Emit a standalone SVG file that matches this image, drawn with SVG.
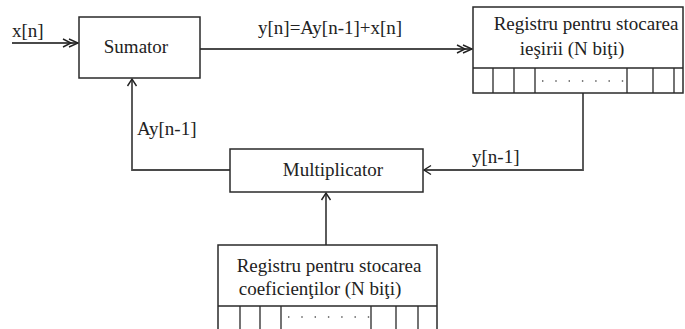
<svg xmlns="http://www.w3.org/2000/svg" width="685" height="329" viewBox="0 0 685 329">
  <style>
    .box { fill: #ffffff; stroke: #2a2a2a; stroke-width: 1.5; }
    .cell { stroke: #2a2a2a; stroke-width: 1.3; fill: none; }
    .dots { stroke: #555; stroke-width: 1.4; stroke-dasharray: 1.4 11.9; fill: none; }
    .wire { fill: none; stroke: #4a4a4a; stroke-width: 1.8; }
    text { font-family: 'Liberation Serif', 'DejaVu Serif', 'Times New Roman', serif; font-size: 19px; fill: #222; }
  </style>
  <defs>
    <marker id="dbl" viewBox="-16 -6 18 12" refX="0" refY="0" markerWidth="18" markerHeight="12" markerUnits="userSpaceOnUse" orient="auto">
      <path d="M-15,-4 L-7,0 L-15,4 M-9,-4 L0,0 L-9,4" fill="none" stroke="#222" stroke-width="1.4"/>
    </marker>
    <marker id="open" viewBox="-10 -6 12 12" refX="0" refY="0" markerWidth="12" markerHeight="12" markerUnits="userSpaceOnUse" orient="auto">
      <path d="M-7,-4.5 L0,0 L-7,4.5" fill="none" stroke="#222" stroke-width="1.4"/>
    </marker>
  </defs>

  <!-- connectors -->
  <g id="connectors" font-family="Liberation Serif, DejaVu Serif, serif">
    <path class="wire" d="M12,43 L78,43" marker-end="url(#dbl)"/>
    <path class="wire" d="M200,49 L472,49" marker-end="url(#dbl)"/>
    <path class="wire" d="M583,93 L583,170 L424,170" marker-end="url(#open)"/>
    <path class="wire" d="M230,170 L132,170 L132,79" marker-end="url(#open)"/>
    <path class="wire" d="M326,245 L326,193" marker-end="url(#open)"/>
    <text x="12" y="37">x[n]</text>
    <text x="258" y="34">y[n]=Ay[n-1]+x[n]</text>
    <text x="472" y="163">y[n-1]</text>
    <text x="137" y="135">Ay[n-1]</text>
  </g>

  <!-- adder -->
  <g id="sumator">
    <rect class="box" x="79" y="17" width="121" height="61"/>
    <text x="136" y="53" text-anchor="middle">Sumator</text>
  </g>

  <!-- output register -->
  <g id="registru-iesire">
    <rect class="box" x="473" y="7" width="210" height="86"/>
    <path class="cell" d="M473,68 H683 M493,68 V93 M514,68 V93 M535,68 V93 M627,68 V93 M653,68 V93 M674,68 V93"/>
    <path class="dots" d="M542,81 H626"/>
    <text x="586" y="30" text-anchor="middle">Registru pentru stocarea</text>
    <text x="572" y="55" text-anchor="middle">ieşirii (N biţi)</text>
  </g>

  <!-- multiplier -->
  <g id="multiplicator">
    <rect class="box" x="230" y="149" width="193" height="43"/>
    <text x="333" y="176" text-anchor="middle">Multiplicator</text>
  </g>

  <!-- coefficient register -->
  <g id="registru-coeficienti">
    <rect class="box" x="218" y="245" width="219" height="100"/>
    <path class="cell" d="M218,306 H437 M240,306 V329 M260,306 V329 M281,306 V329 M371,306 V329 M396,306 V329 M418,306 V329"/>
    <path class="dots" d="M288,317 H370"/>
    <text x="329" y="272" text-anchor="middle">Registru pentru stocarea</text>
    <text x="320" y="295" text-anchor="middle">coeficienţilor (N biţi)</text>
  </g>
</svg>
